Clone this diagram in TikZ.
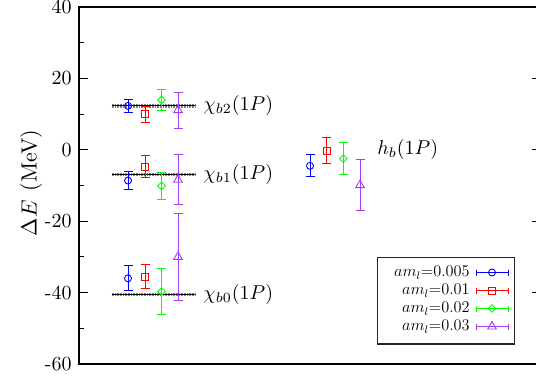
\documentclass[tikz,border=0pt]{standalone}
\usepackage{fontspec}
\usetikzlibrary{shapes.geometric,calc}
\definecolor{cblue}{RGB}{0,0,255}
\definecolor{cred}{RGB}{255,0,0}
\definecolor{cgreen}{RGB}{0,255,0}
\definecolor{cpurp}{RGB}{165,60,240}
\newcommand\ept[6]{%
  \draw[ebar,#5] (#2,#3-#4) -- (#2,#3+#4)
     (#2-4.5,#3-#4) -- (#2+4.5,#3-#4)
     (#2-4.5,#3+#4) -- (#2+4.5,#3+#4);
  \node[#6,draw=#5] (#1) at (#2,#3) {};}
\newcommand\legent[5]{% name, y, text, color, marker
  \node[legtext] (#1t) at (470,#2) {#3};
  \coordinate (#1a) at (476,#2);
  \coordinate (#1b) at (508.7,#2);
  \draw[ebar,#4] (#1a) -- (#1b) ($(#1a)+(0,3)$) -- ($(#1a)+(0,-3)$) ($(#1b)+(0,3)$) -- ($(#1b)+(0,-3)$);
  \node[#5,draw=#4] (#1m) at (492,#2) {};}
\begin{document}
\begin{tikzpicture}[x=1pt,y=1pt,
  axis/.style={line width=1.2pt,black},
  ebar/.style={line width=0.9pt},
  mcirc/.style={circle,inner sep=0,minimum size=7pt,line width=0.9pt},
  msq/.style={rectangle,inner sep=0,minimum size=7pt,line width=0.9pt},
  mdia/.style={diamond,inner sep=0,minimum size=8pt,line width=0.9pt},
  mtri/.style={regular polygon,regular polygon sides=3,inner sep=0,minimum size=10pt,line width=0.9pt},
  ticklab/.style={anchor=east,inner sep=0,scale=2},
  mainlab/.style={inner sep=0,scale=2},
  ylabst/.style={inner sep=0,scale=2.2},
  legtext/.style={anchor=east,inner sep=0,font=\fontsize{12}{14}\selectfont,scale=1.36},
  refband/.style={line width=3.4pt,gray,dash pattern=on 0.8pt off 0.8pt},
  refline/.style={line width=0.9pt,black},
  legbox/.style={draw=black!85,line width=1.3pt,inner sep=0}]
\useasboundingbox (0,0) rectangle (536,381);
% frame
\draw[axis] (536,374) -- (79,374) -- (79,17) -- (536,17);
\node[ylabst,rotate=90] (ylab) at (31,198) {$\Delta E$\hspace{0.4em}(MeV)};
\begin{scope}[yshift=231.2pt,y=3.57pt]
  \foreach \v [count=\i] in {-60,-40,-20,0,20,40} {
    \draw[line width=1pt] (79,\v) -- (88,\v);
    \node[ticklab] (tk\i) at (72,\v) {\v};
  }
  \foreach \v in {-50,-30,-10,10,30} \draw[line width=1pt] (79,\v) -- (84,\v);
  \foreach \v in {-40,-20,0,20} \draw[line width=1pt] (532,\v) -- (536,\v);
  % reference lines
  \foreach \n/\v in {r2/12.3,r1/-7.0,r0/-40.6} {
    \coordinate (\n a) at (111.7,\v);
    \coordinate (\n b) at (195,\v);
    \draw[refband] (\n a) -- (\n b);
    \draw[refline] (\n a) -- (\n b);
  }
  \node[mainlab,anchor=west] (lb2) at (203,12.3) {$\chi_{b2}(1P)$};
  \node[mainlab,anchor=west] (lb1) at (203,-7.0) {$\chi_{b1}(1P)$};
  \node[mainlab,anchor=west] (lb0) at (203,-40.6) {$\chi_{b0}(1P)$};
  \node[mainlab,anchor=west] (lhb) at (377,0) {$h_b(1P)$};
  % chi_b2
  \ept{a1}{128}{12.3}{1.9}{cblue}{mcirc}
  \ept{a2}{145}{10.0}{2.2}{cred}{msq}
  \ept{a3}{161.5}{14.0}{3.0}{cgreen}{mdia}
  \ept{a4}{178}{11.1}{5.0}{cpurp}{mtri}
  % chi_b1
  \ept{b1}{128}{-8.6}{2.4}{cblue}{mcirc}
  \ept{b2}{145}{-4.7}{3.1}{cred}{msq}
  \ept{b3}{161.5}{-10.1}{3.7}{cgreen}{mdia}
  \ept{b4}{178}{-8.4}{7.0}{cpurp}{mtri}
  % chi_b0
  \ept{c1}{128}{-36.0}{3.5}{cblue}{mcirc}
  \ept{c2}{145}{-35.5}{3.3}{cred}{msq}
  \ept{c3}{161.5}{-39.7}{6.5}{cgreen}{mdia}
  \ept{c4}{178}{-30.0}{12.2}{cpurp}{mtri}
  % h_b
  \ept{d1}{310}{-4.5}{3.1}{cblue}{mcirc}
  \ept{d2}{326.7}{-0.2}{3.6}{cred}{msq}
  \ept{d3}{343.3}{-2.5}{4.5}{cgreen}{mdia}
  \ept{d4}{360}{-9.9}{7.2}{cpurp}{mtri}
\end{scope}
% legend
\node[legbox,minimum width=136.5pt,minimum height=86.3pt,anchor=north west] (leg) at (377,124) {};
\legent{e1}{108.5}{$am_l$=0.005}{cblue}{mcirc}
\legent{e2}{90.5}{$am_l$=0.01}{cred}{msq}
\legent{e3}{72.5}{$am_l$=0.02}{cgreen}{mdia}
\legent{e4}{54.5}{$am_l$=0.03}{cpurp}{mtri}
\end{tikzpicture}
\end{document}
